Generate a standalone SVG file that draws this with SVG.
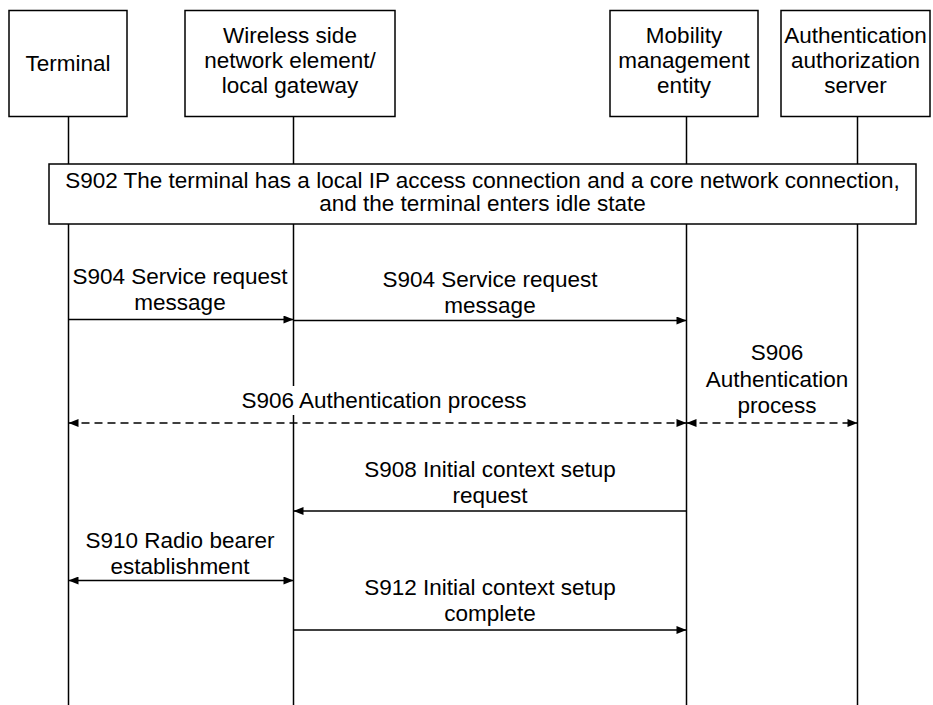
<svg xmlns="http://www.w3.org/2000/svg" width="933" height="705" viewBox="0 0 933 705">
<style>
.box{fill:#fff;stroke:#000;stroke-width:1.5}
.life{stroke:#000;stroke-width:1.5;fill:none}
.msg{stroke:#000;stroke-width:1.4;fill:none}
.dash{stroke-dasharray:8 5}
text{font-family:"Liberation Sans",Arial,sans-serif;font-size:22.5px;fill:#000;text-anchor:middle}
</style>
<defs>
<marker id="ah" viewBox="0 0 10 8" refX="10" refY="4" markerWidth="11" markerHeight="8" markerUnits="userSpaceOnUse" orient="auto-start-reverse">
<path d="M0,0 L10,4 L0,8 z" fill="#000"/>
</marker>
</defs>
<rect width="933" height="705" fill="#fff"/>
<g id="lifelines">
<line class="life" x1="68.5" y1="117" x2="68.5" y2="705"/>
<line class="life" x1="293.5" y1="117" x2="293.5" y2="705"/>
<line class="life" x1="686.5" y1="117" x2="686.5" y2="705"/>
<line class="life" x1="857.5" y1="117" x2="857.5" y2="705"/>
</g>
<g id="terminal">
<rect class="box" x="9" y="10.5" width="118" height="106"/>
<text x="68" y="71">Terminal</text>
</g>
<g id="wireless">
<rect class="box" x="185" y="10.5" width="210" height="106"/>
<text x="290" y="43">Wireless side</text>
<text x="290" y="68">network element/</text>
<text x="290" y="93">local gateway</text>
</g>
<g id="mme">
<rect class="box" x="610" y="10.5" width="148" height="106"/>
<text x="684" y="43">Mobility</text>
<text x="684" y="68">management</text>
<text x="684" y="93">entity</text>
</g>
<g id="aaa">
<rect class="box" x="781" y="10.5" width="149" height="106"/>
<text x="855.5" y="43">Authentication</text>
<text x="855.5" y="68">authorization</text>
<text x="855.5" y="93">server</text>
</g>
<g id="s902">
<rect class="box" x="49" y="164" width="867" height="60"/>
<text x="482.5" y="188">S902 The terminal has a local IP access connection and a core network connection,</text>
<text x="482.5" y="211">and the terminal enters idle state</text>
</g>
<g id="connectors">
<line class="msg" x1="68.5" y1="319.5" x2="293.5" y2="319.5" marker-end="url(#ah)"/>
<line class="msg" x1="293.5" y1="320.5" x2="686.5" y2="320.5" marker-end="url(#ah)"/>
<line class="msg dash" x1="68.5" y1="423" x2="686.5" y2="423" marker-start="url(#ah)" marker-end="url(#ah)"/>
<line class="msg dash" x1="686.5" y1="423" x2="857.5" y2="423" marker-start="url(#ah)" marker-end="url(#ah)"/>
<line class="msg" x1="686.5" y1="511" x2="293.5" y2="511" marker-end="url(#ah)"/>
<line class="msg" x1="68.5" y1="580.5" x2="293.5" y2="580.5" marker-start="url(#ah)" marker-end="url(#ah)"/>
<line class="msg" x1="293.5" y1="630" x2="686.5" y2="630" marker-end="url(#ah)"/>
</g>
<g id="labels">
<text x="180" y="284">S904 Service request</text>
<text x="180" y="310">message</text>
<text x="490" y="287">S904 Service request</text>
<text x="490" y="313">message</text>
<rect x="236" y="386" width="296" height="29" fill="#fff"/>
<text x="384" y="408">S906 Authentication process</text>
<text x="777" y="360">S906</text>
<text x="777" y="387">Authentication</text>
<text x="777" y="413">process</text>
<text x="490" y="477">S908 Initial context setup</text>
<text x="490" y="503">request</text>
<text x="180" y="548">S910 Radio bearer</text>
<text x="180" y="574">establishment</text>
<text x="490" y="595">S912 Initial context setup</text>
<text x="490" y="621">complete</text>
</g>
</svg>
